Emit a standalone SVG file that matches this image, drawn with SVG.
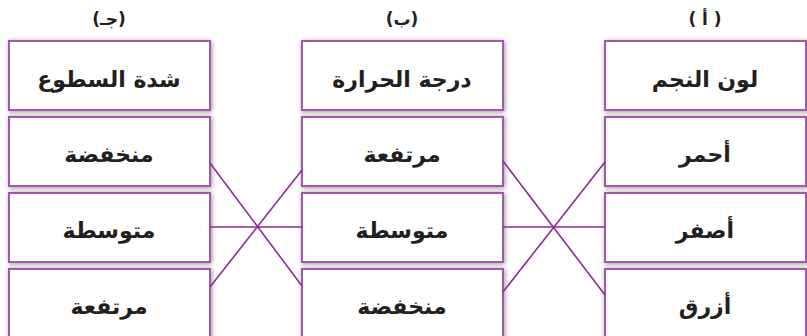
<svg xmlns="http://www.w3.org/2000/svg" width="807" height="336" viewBox="0 0 807 336">
<defs>
<filter id="sh" x="-10%" y="-20%" width="120%" height="140%">
<feDropShadow dx="1" dy="1" stdDeviation="2.5" flood-color="#000" flood-opacity="0.4"/>
</filter>
<style>
.box{fill:#fff;stroke:#a458ac;stroke-width:2;filter:url(#sh)}
.t{font-family:"DejaVu Sans","Noto Sans",sans-serif;font-weight:bold;font-size:22px;fill:#231f20;text-anchor:middle}
.lbl{font-family:"DejaVu Sans","Noto Sans",sans-serif;font-weight:bold;font-size:17px;fill:#231f20;text-anchor:middle}
.c{stroke:#8e2b91;stroke-width:1.6;fill:none}
</style>
</defs>
<rect width="807" height="336" fill="#fff"/>
<g id="labels">
<text class="lbl" x="109" y="25">(جـ)</text>
<text class="lbl" x="402" y="25">(ب)</text>
<text class="lbl" x="705" y="25">( أ )</text>
</g>
<g id="col-c">
<g id="c-head"><rect class="box" x="9" y="41" width="201" height="69"/><text class="t" x="109" y="87">شدة السطوع</text></g>
<g id="c-low"><rect class="box" x="9" y="117" width="201" height="69"/><text class="t" x="109" y="162">منخفضة</text></g>
<g id="c-mid"><rect class="box" x="9" y="193" width="201" height="69"/><text class="t" x="109" y="238">متوسطة</text></g>
<g id="c-high"><rect class="box" x="9" y="269" width="201" height="69"/><text class="t" x="109" y="314">مرتفعة</text></g>
</g>
<g id="col-b">
<g id="b-head"><rect class="box" x="302" y="41" width="201" height="69"/><text class="t" x="402" y="87">درجة الحرارة</text></g>
<g id="b-high"><rect class="box" x="302" y="117" width="201" height="69"/><text class="t" x="402" y="162">مرتفعة</text></g>
<g id="b-mid"><rect class="box" x="302" y="193" width="201" height="69"/><text class="t" x="402" y="238">متوسطة</text></g>
<g id="b-low"><rect class="box" x="302" y="269" width="201" height="69"/><text class="t" x="402" y="314">منخفضة</text></g>
</g>
<g id="col-a">
<g id="a-head"><rect class="box" x="605" y="41" width="201" height="69"/><text class="t" x="705" y="87">لون النجم</text></g>
<g id="a-red"><rect class="box" x="605" y="117" width="201" height="69"/><text class="t" x="705" y="162">أحمر</text></g>
<g id="a-yellow"><rect class="box" x="605" y="193" width="201" height="69"/><text class="t" x="705" y="238">أصفر</text></g>
<g id="a-blue"><rect class="box" x="605" y="269" width="201" height="69"/><text class="t" x="705" y="314">أزرق</text></g>
</g>
<g id="connectors">
<line class="c" x1="210" y1="163" x2="302" y2="286"/>
<line class="c" x1="210" y1="227" x2="302" y2="227"/>
<line class="c" x1="210" y1="287" x2="302" y2="170"/>
<line class="c" x1="503" y1="161" x2="605" y2="295"/>
<line class="c" x1="503" y1="227" x2="605" y2="227"/>
<line class="c" x1="503" y1="292" x2="605" y2="162"/>
</g>
</svg>
